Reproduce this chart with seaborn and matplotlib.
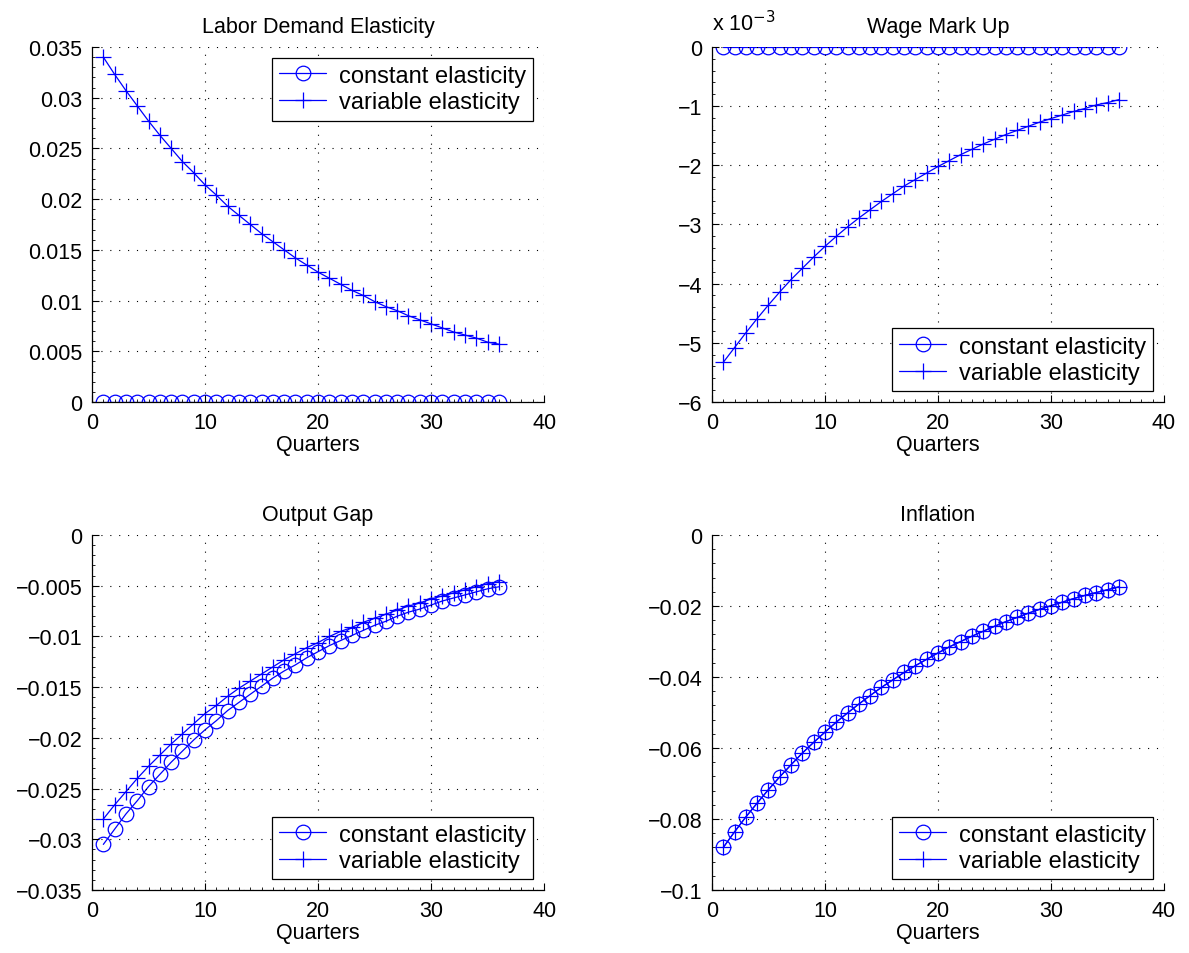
import matplotlib
matplotlib.use("Agg")
import matplotlib.pyplot as plt
import seaborn as sns
from matplotlib.ticker import FuncFormatter, MultipleLocator, AutoMinorLocator

quarters = list(range(1, 37))

titles = ["Labor Demand Elasticity", "Wage Mark Up", "Output Gap", "Inflation"]
legend_labels = ["constant elasticity", "variable elasticity"]
x_label = "Quarters"

# Labor Demand Elasticity
lde_const = [0.0] * 36
lde_var = [0.0340, 0.0323, 0.0307, 0.0292, 0.0277, 0.0263, 0.0250, 0.0237, 0.0226, 0.0214,
           0.0204, 0.0193, 0.0184, 0.0175, 0.0166, 0.0158, 0.0150, 0.0142, 0.0135, 0.0128,
           0.0122, 0.0116, 0.0110, 0.0105, 0.0099, 0.0094, 0.0090, 0.0085, 0.0081, 0.0077,
           0.0073, 0.0069, 0.0066, 0.0063, 0.0059, 0.0057]

# Wage Mark Up
wmu_const = [0.0] * 36
wmu_var = [-5.33e-3, -5.08e-3, -4.83e-3, -4.59e-3, -4.36e-3, -4.14e-3, -3.93e-3, -3.74e-3, -3.55e-3, -3.37e-3,
           -3.20e-3, -3.04e-3, -2.89e-3, -2.75e-3, -2.61e-3, -2.48e-3, -2.35e-3, -2.24e-3, -2.13e-3, -2.02e-3,
           -1.92e-3, -1.82e-3, -1.73e-3, -1.64e-3, -1.56e-3, -1.48e-3, -1.41e-3, -1.34e-3, -1.27e-3, -1.21e-3,
           -1.15e-3, -1.09e-3, -1.04e-3, -0.98e-3, -0.94e-3, -0.89e-3]

# Output Gap
og_const = [-0.0305, -0.0290, -0.0275, -0.0262, -0.0248, -0.0236, -0.0224, -0.0213, -0.0202, -0.0192,
            -0.0183, -0.0173, -0.0165, -0.0157, -0.0149, -0.0141, -0.0134, -0.0128, -0.0121, -0.0115,
            -0.0109, -0.0104, -0.0099, -0.0094, -0.0089, -0.0085, -0.0080, -0.0076, -0.0073, -0.0069,
            -0.0065, -0.0062, -0.0059, -0.0056, -0.0053, -0.0051]
og_var = [-0.0280, -0.0266, -0.0253, -0.0240, -0.0228, -0.0217, -0.0206, -0.0196, -0.0186, -0.0176,
          -0.0168, -0.0159, -0.0151, -0.0144, -0.0137, -0.0130, -0.0123, -0.0117, -0.0111, -0.0106,
          -0.0100, -0.0095, -0.0091, -0.0086, -0.0082, -0.0078, -0.0074, -0.0070, -0.0067, -0.0063,
          -0.0060, -0.0057, -0.0054, -0.0051, -0.0048, -0.0046]

# Inflation
inf_const = [-0.0880, -0.0836, -0.0794, -0.0755, -0.0717, -0.0681, -0.0647, -0.0614, -0.0584, -0.0555,
             -0.0527, -0.0501, -0.0476, -0.0452, -0.0429, -0.0408, -0.0387, -0.0368, -0.0350, -0.0332,
             -0.0315, -0.0300, -0.0285, -0.0271, -0.0257, -0.0244, -0.0232, -0.0220, -0.0209, -0.0199,
             -0.0189, -0.0179, -0.0170, -0.0162, -0.0154, -0.0146]
inf_var = [-0.0880, -0.0836, -0.0794, -0.0755, -0.0717, -0.0681, -0.0647, -0.0614, -0.0584, -0.0555,
           -0.0527, -0.0501, -0.0476, -0.0452, -0.0429, -0.0408, -0.0387, -0.0368, -0.0350, -0.0332,
           -0.0315, -0.0300, -0.0285, -0.0271, -0.0257, -0.0244, -0.0232, -0.0220, -0.0209, -0.0199,
           -0.0189, -0.0179, -0.0170, -0.0162, -0.0154, -0.0146]

panels = [
    (lde_const, lde_var, (0, 0.035), 0.005, "upper right", 1.0),
    (wmu_const, wmu_var, (-0.006, 0), 0.001, "lower right", 1e3),
    (og_const, og_var, (-0.035, 0), 0.005, "lower right", 1.0),
    (inf_const, inf_var, (-0.1, 0), 0.02, "lower right", 1.0),
]

sns.set_theme(style="white")
plt.rcParams["font.family"] = ["Liberation Sans", "DejaVu Sans"]
plt.rcParams["font.size"] = 15.5
plt.rcParams["axes.unicode_minus"] = True
plt.rcParams["text.color"] = "black"
plt.rcParams["axes.labelcolor"] = "black"

fig = plt.figure(figsize=(11.89, 9.54), dpi=100)
positions = [
    [0.0774, 0.5776, 0.3802, 0.3721],
    [0.5988, 0.5776, 0.3802, 0.3721],
    [0.0774, 0.0660, 0.3802, 0.3721],
    [0.5988, 0.0660, 0.3802, 0.3721],
]

blue = (0, 0, 1)
fs = 15.5

def make_fmt(scale):
    def f(v, p):
        s = "%g" % round(v * scale, 6)
        if s in ("-0", "0"):
            return "0"
        return s.replace("-", "\u2212")
    return FuncFormatter(f)

for i, (yc, yv, ylim, ystep, loc, scale) in enumerate(panels):
    ax = fig.add_axes(positions[i])
    sns.lineplot(x=quarters, y=yc, ax=ax, color=blue, lw=0.9, marker="o", ms=10.5,
                 mfc="none", mec=blue, mew=0.9, label=legend_labels[0])
    sns.lineplot(x=quarters, y=yv, ax=ax, color=blue, lw=0.9, marker="+", ms=11.5,
                 mec=blue, mew=0.9, label=legend_labels[1])
    ax.set_xlim(0, 40)
    ax.set_ylim(*ylim)
    ax.xaxis.set_major_locator(MultipleLocator(10))
    ax.yaxis.set_major_locator(MultipleLocator(ystep))
    ax.xaxis.set_minor_locator(AutoMinorLocator(10))
    ax.yaxis.set_minor_locator(AutoMinorLocator(5))
    ax.yaxis.set_major_formatter(make_fmt(scale))
    ax.xaxis.set_major_formatter(make_fmt(1.0))
    ax.tick_params(which="both", direction="in", colors="black", labelsize=fs,
                   top=False, right=False, left=True, bottom=True)
    ax.tick_params(which="major", length=5, width=0.8, pad=7)
    ax.tick_params(which="minor", length=2.5, width=0.6)
    for side in ("top", "right"):
        ax.spines[side].set_visible(False)
    for side in ("left", "bottom"):
        ax.spines[side].set_color("black")
        ax.spines[side].set_linewidth(0.9)
    ax.grid(True, which="major", color="black", linestyle=(0, (1, 7)), linewidth=0.8)
    ax.set_axisbelow(False)
    ax.set_title(titles[i], fontsize=fs, pad=11, color="black")
    ax.set_xlabel(x_label, fontsize=fs, labelpad=1, color="black")
    ax.set_ylabel("")
    leg = ax.legend(loc=loc, fontsize=17, frameon=True, fancybox=False,
                    edgecolor="black", framealpha=1, borderpad=0.3, labelspacing=0.2,
                    handlelength=2.0, handletextpad=0.55, borderaxespad=0.45)
    leg.get_frame().set_linewidth(0.9)
    for t in leg.get_texts():
        t.set_color("black")
    if scale != 1.0:
        ax.text(0.0, 1.033, "x 10$^{\u22123}$", transform=ax.transAxes, ha="left",
                va="bottom", fontsize=fs, color="black")

fig.savefig("out.png", dpi=100, facecolor="white")
